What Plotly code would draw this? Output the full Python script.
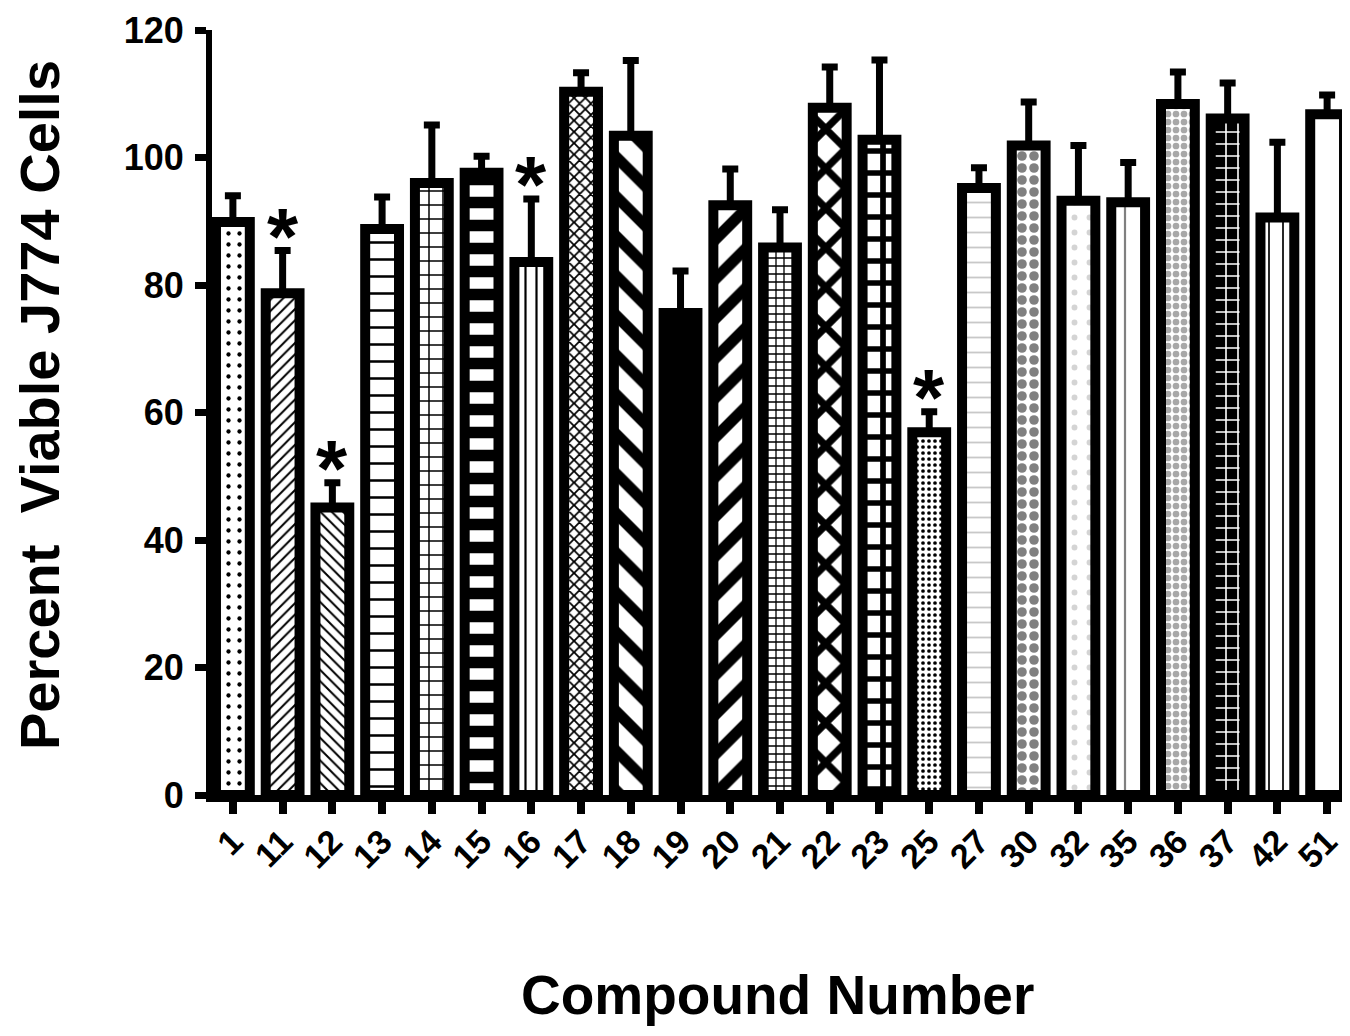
import plotly.graph_objects as go

# ---- data ----
compounds = ["1", "11", "12", "13", "14", "15", "16", "17", "18", "19", "20", "21",
             "22", "23", "25", "27", "30", "32", "35", "36", "37", "42", "51"]
viability = [89.9, 78.7, 45.1, 88.8, 96.0, 97.6, 83.6, 110.3, 103.4, 75.6, 92.5, 85.9,
             107.8, 102.8, 56.9, 95.2, 101.9, 93.2, 93.0, 108.4, 106.1, 90.6, 106.8]
sem = [4.1, 6.7, 3.9, 5.0, 9.1, 2.6, 9.9, 3.0, 11.8, 6.6, 5.7, 5.9,
       6.4, 12.5, 3.2, 3.2, 6.8, 8.7, 6.2, 5.0, 5.6, 11.8, 3.0]
significant = ["11", "12", "16", "25"]
y_ticks = [0, 20, 40, 60, 80, 100, 120]

# ---- styles (one per bar) ----
shapes = [".", "/", "\\", "-", "+", "-", "|", "x", "\\", "", "/", "+",
          "x", "+", ".", "-", ".", ".", "|", ".", "+", "|", ""]
pat_size = [11, 8, 8, 17, 14, 23, 11, 8, 28, 10, 28, 8,
            28, 22, 6, 15, 12, 15, 22, 8, 12, 14, 10]
solidity = [0.12, 0.25, 0.25, 0.15, 0.2, 0.5, 0.2, 0.4, 0.4, 0.3, 0.4, 0.3,
            0.45, 0.45, 0.3, 0.12, 0.5, 0.12, 0.1, 0.55, 0.25, 0.12, 0.3]
fg = ["black", "black", "black", "black", "black", "black", "black", "black", "black",
      "black", "black", "black", "black", "black", "black", "#c8c8c8", "#808080",
      "#d4d4d4", "#808080", "#a8a8a8", "white", "black", "black"]
bg = ["white"] * len(compounds)
bg[9] = "black"
bg[20] = "black"

FONT = "Liberation Sans, Arial, sans-serif"
positions = list(range(len(compounds)))

fig = go.Figure()
for i, name in enumerate(compounds):
    marker = dict(color=bg[i], line=dict(color="black", width=10))
    if shapes[i]:
        marker["pattern"] = dict(shape=shapes[i], size=pat_size[i], solidity=solidity[i],
                                 fgcolor=fg[i], bgcolor=bg[i], fillmode="replace")
    fig.add_trace(go.Bar(
        x=[positions[i]], y=[viability[i]], name=name, width=0.68,
        marker=marker,
        error_y=dict(type="data", symmetric=False, array=[sem[i]], arrayminus=[0],
                     color="black", thickness=7, width=8),
        showlegend=False,
    ))

for c in significant:
    i = compounds.index(c)
    fig.add_annotation(x=positions[i], y=viability[i] + sem[i], xref="x", yref="y",
                       text="*", showarrow=False, yanchor="bottom", yshift=-32,
                       font=dict(family=FONT, size=80, color="black", weight="bold"))

fig.add_annotation(text="Percent  Viable J774 Cells", xref="paper", yref="paper",
                   x=-0.151, y=0.51, xanchor="center", yanchor="middle",
                   textangle=-90, showarrow=False,
                   font=dict(family=FONT, size=56, color="black", weight="bold"))
fig.add_annotation(text="Compound Number", xref="paper", yref="paper",
                   x=0.497, y=-0.262, xanchor="center", yanchor="middle",
                   showarrow=False,
                   font=dict(family=FONT, size=55, color="black", weight="bold"))

fig.update_layout(
    width=1342, height=1020,
    margin=dict(l=204, r=0, t=22, b=233),
    paper_bgcolor="white", plot_bgcolor="white",
    barmode="overlay",
    xaxis=dict(
        range=[-0.42, 22.46], tickvals=positions, ticktext=compounds,
        showline=True, linecolor="black", linewidth=7,
        ticks="outside", ticklen=12, tickwidth=8, tickcolor="black",
        tickangle=-45, ticklabelstandoff=-6,
        showgrid=False, zeroline=False,
        tickfont=dict(family=FONT, size=34, color="black", weight="bold"),
    ),
    yaxis=dict(
        range=[0, 120], tickvals=y_ticks,
        showline=True, linecolor="black", linewidth=6,
        ticks="outside", ticklen=11, tickwidth=7, tickcolor="black",
        ticklabelstandoff=4,
        showgrid=False, zeroline=False,
        tickfont=dict(family=FONT, size=36, color="black", weight="bold"),
    ),
)

fig.write_html("out.html")
